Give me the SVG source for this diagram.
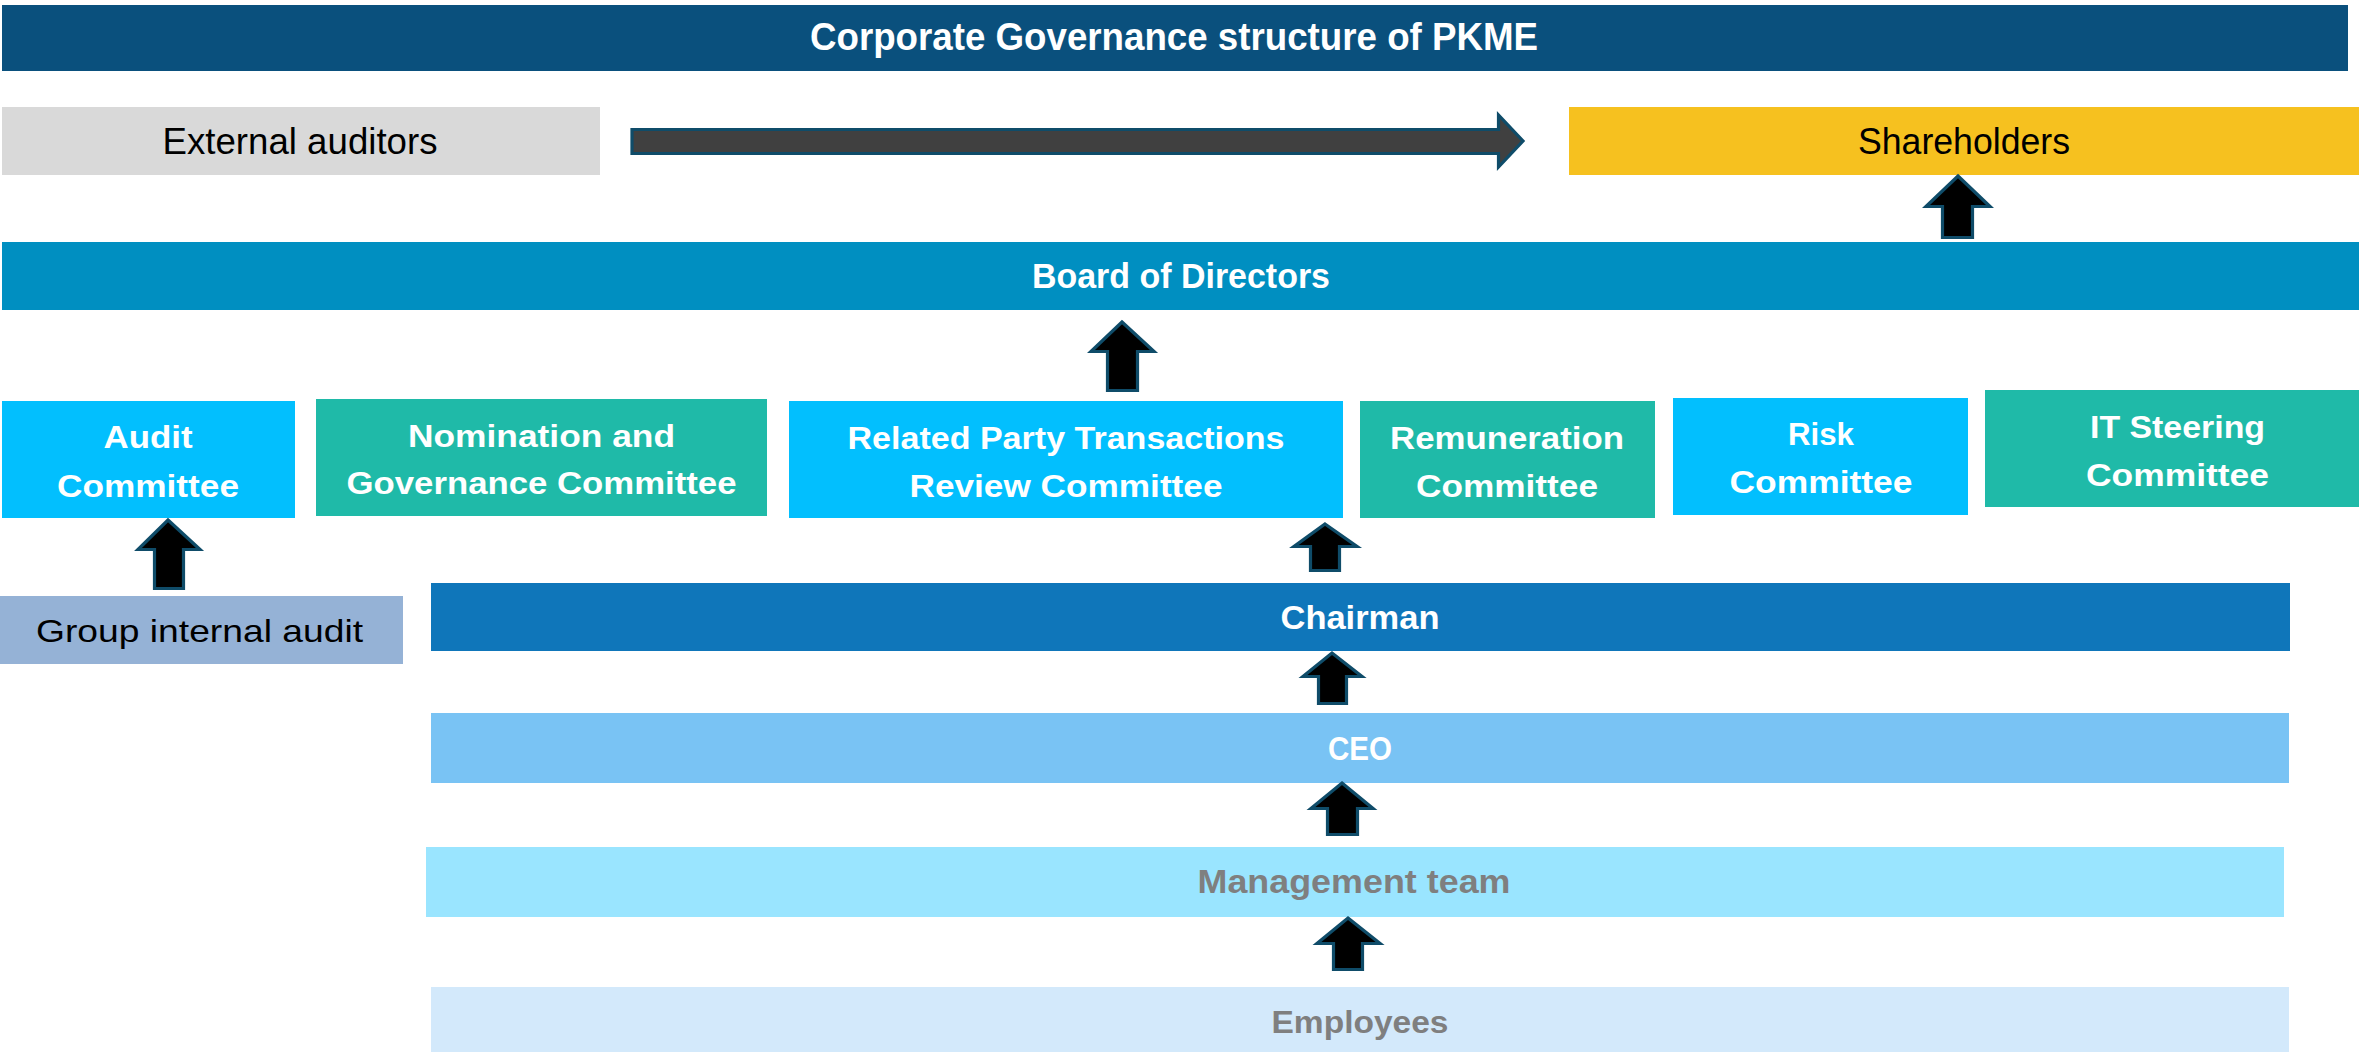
<svg xmlns="http://www.w3.org/2000/svg" width="2359" height="1052" viewBox="0 0 2359 1052">
<style>
text{font-family:"Liberation Sans",Arial,sans-serif;text-anchor:middle}
.b{font-weight:bold;fill:#FFFFFF}
.r{fill:#000000}
.g{font-weight:bold;fill:#7F7F7F}
.up{fill:#000000;stroke:#0F4C69;stroke-width:3.2;stroke-linejoin:miter}
.cy{fill:#02BFFE}
.tl{fill:#1FBAA8}
</style>
<rect width="2359" height="1052" fill="#FFFFFF"/>
<g id="title">
<rect x="2" y="5" width="2346" height="66" fill="#0A507D"/>
<text class="b" x="1174" y="50" font-size="38" textLength="728" lengthAdjust="spacingAndGlyphs">Corporate Governance structure of PKME</text>
</g>
<g id="external-auditors">
<rect x="2" y="107" width="598" height="68" fill="#D9D9D9"/>
<text class="r" x="300" y="154" font-size="36" textLength="275" lengthAdjust="spacingAndGlyphs">External auditors</text>
</g>
<g id="shareholders">
<rect x="1569" y="107" width="790" height="68" fill="#F6C11F"/>
<text class="r" x="1964" y="154" font-size="36" textLength="212" lengthAdjust="spacingAndGlyphs">Shareholders</text>
</g>
<g id="board">
<rect x="2" y="242" width="2357" height="68" fill="#008FC1"/>
<text class="b" x="1181" y="288" font-size="35" textLength="298" lengthAdjust="spacingAndGlyphs">Board of Directors</text>
</g>
<g id="audit-committee">
<rect class="cy" x="2" y="401" width="293" height="117"/>
<text class="b" x="148" y="448" font-size="32" textLength="89" lengthAdjust="spacingAndGlyphs">Audit</text>
<text class="b" x="148" y="497" font-size="32" textLength="182" lengthAdjust="spacingAndGlyphs">Committee</text>
</g>
<g id="nomination-committee">
<rect class="tl" x="316" y="399" width="451" height="117"/>
<text class="b" x="541.5" y="447" font-size="32" textLength="267" lengthAdjust="spacingAndGlyphs">Nomination and</text>
<text class="b" x="541.5" y="494" font-size="32" textLength="390" lengthAdjust="spacingAndGlyphs">Governance Committee</text>
</g>
<g id="rpt-committee">
<rect class="cy" x="789" y="401" width="554" height="117"/>
<text class="b" x="1066" y="449" font-size="32" textLength="437" lengthAdjust="spacingAndGlyphs">Related Party Transactions</text>
<text class="b" x="1066" y="497" font-size="32" textLength="313" lengthAdjust="spacingAndGlyphs">Review Committee</text>
</g>
<g id="remuneration-committee">
<rect class="tl" x="1360" y="401" width="295" height="117"/>
<text class="b" x="1507" y="449" font-size="32" textLength="234" lengthAdjust="spacingAndGlyphs">Remuneration</text>
<text class="b" x="1507" y="497" font-size="32" textLength="182" lengthAdjust="spacingAndGlyphs">Committee</text>
</g>
<g id="risk-committee">
<rect class="cy" x="1673" y="398" width="295" height="117"/>
<text class="b" x="1821" y="445" font-size="32" textLength="66" lengthAdjust="spacingAndGlyphs">Risk</text>
<text class="b" x="1821" y="493" font-size="32" textLength="183" lengthAdjust="spacingAndGlyphs">Committee</text>
</g>
<g id="it-committee">
<rect class="tl" x="1985" y="390" width="374" height="117"/>
<text class="b" x="2177.5" y="438" font-size="32" textLength="175" lengthAdjust="spacingAndGlyphs">IT Steering</text>
<text class="b" x="2177.5" y="486" font-size="32" textLength="183" lengthAdjust="spacingAndGlyphs">Committee</text>
</g>
<g id="group-internal-audit">
<rect x="0" y="596" width="403" height="68" fill="#95B2D6"/>
<text class="r" x="199.5" y="642" font-size="32" textLength="327" lengthAdjust="spacingAndGlyphs">Group internal audit</text>
</g>
<g id="chairman">
<rect x="431" y="583" width="1859" height="68" fill="#0F76BA"/>
<text class="b" x="1360" y="629" font-size="34" textLength="159" lengthAdjust="spacingAndGlyphs">Chairman</text>
</g>
<g id="ceo">
<rect x="431" y="713" width="1858" height="70" fill="#79C3F4"/>
<text class="b" x="1360" y="760" font-size="34" textLength="64" lengthAdjust="spacingAndGlyphs">CEO</text>
</g>
<g id="management">
<rect x="426" y="847" width="1858" height="70" fill="#9AE5FF"/>
<text class="g" x="1354" y="893" font-size="33" textLength="313" lengthAdjust="spacingAndGlyphs">Management team</text>
</g>
<g id="employees">
<rect x="431" y="987" width="1858" height="65" fill="#D3E9FB"/>
<text class="g" x="1360" y="1033" font-size="32" textLength="177" lengthAdjust="spacingAndGlyphs">Employees</text>
</g>
<g id="connectors">
<polygon fill="#404040" stroke="#0F4C69" stroke-width="3.2" points="632,129.5 1498.5,129.5 1498.5,115 1523,141 1498.5,167 1498.5,153.5 632,153.5"/>
<polygon class="up" points="1958,176 1990,206.5 1972.5,206.5 1972.5,237.5 1942.5,237.5 1942.5,206.5 1926,206.5"/>
<polygon class="up" points="1122,322 1154,351.5 1137.5,351.5 1137.5,390.5 1107.5,390.5 1107.5,351.5 1091,351.5"/>
<polygon class="up" points="168,520 200,549.5 183.5,549.5 183.5,588.5 154.5,588.5 154.5,549.5 138,549.5"/>
<polygon class="up" points="1325,524 1357,546.5 1339.5,546.5 1339.5,570.5 1310.5,570.5 1310.5,546.5 1294,546.5"/>
<polygon class="up" points="1332,653 1362,676.5 1346.5,676.5 1346.5,703.5 1318.5,703.5 1318.5,676.5 1303,676.5"/>
<polygon class="up" points="1342,783 1373,808.5 1357.5,808.5 1357.5,834.5 1327.5,834.5 1327.5,808.5 1311,808.5"/>
<polygon class="up" points="1348,918 1380,943.5 1362.5,943.5 1362.5,969.5 1333.5,969.5 1333.5,943.5 1317,943.5"/>
</g>
</svg>
